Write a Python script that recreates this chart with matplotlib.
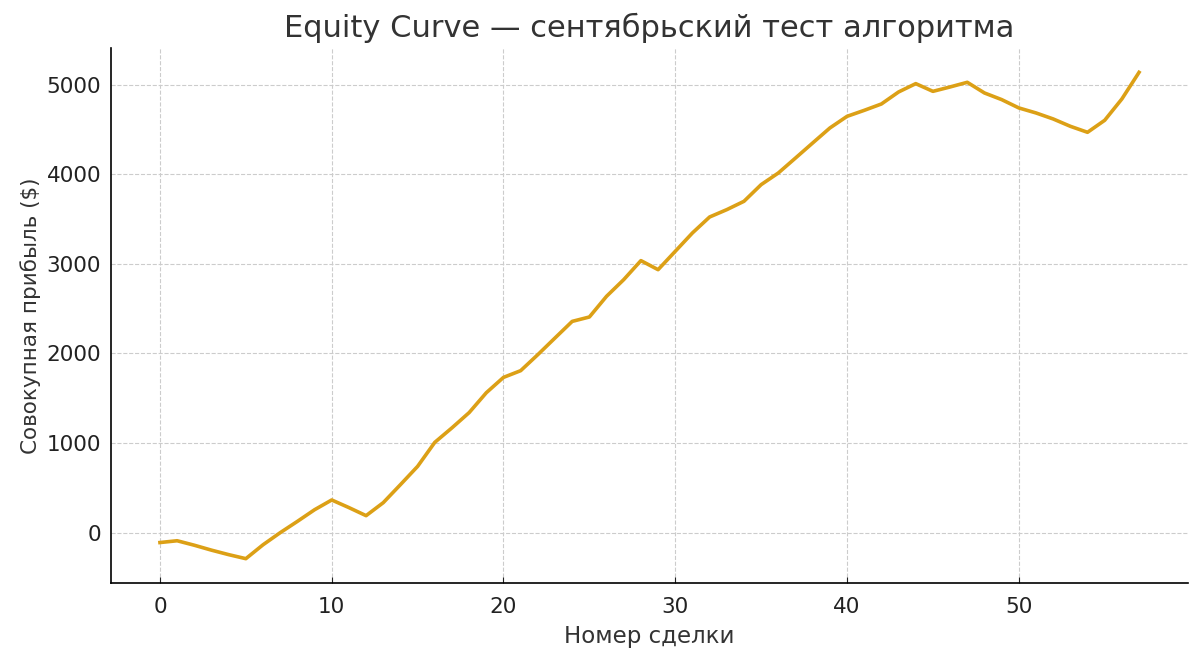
import matplotlib
matplotlib.use("Agg")
import matplotlib.pyplot as plt
import numpy as np

plt.rcParams['font.family'] = ['DejaVu Sans']

# cumulative profit per trade
trade_no = list(range(58))
equity = [-110, -90, -140, -195, -245, -290, -135, 0, 126, 256,
          365, 280, 190, 335, 536, 740, 1008, 1170, 1340, 1562,
          1733, 1808, 1987, 2173, 2358, 2407, 2638, 2824, 3036, 2935,
          3140, 3345, 3523, 3605, 3698, 3884, 4014, 4181, 4349, 4516,
          4646, 4713, 4784, 4918, 5011, 4925, 4974, 5026, 4907, 4833,
          4740, 4684, 4617, 4535, 4468, 4602, 4840, 5137]

fig = plt.figure(figsize=(12, 6.58), dpi=100)
ax = fig.add_subplot(1, 1, 1)
fig.subplots_adjust(left=0.0925, right=0.99, top=0.927, bottom=0.114)

ax.plot(trade_no, equity, color='#DCA016', linewidth=2.6)

ax.set_title('Equity Curve — сентябрьский тест алгоритма', fontsize=22, color='#333333', pad=8)
ax.set_xlabel('Номер сделки', fontsize=16.5, color='#333333', labelpad=6)
ax.set_ylabel('Совокупная прибыль ($)', fontsize=15.5, color='#333333', labelpad=4)
ax.tick_params(axis='both', labelsize=15.5, colors='#222222', direction='in', length=4)
ax.tick_params(axis='x', pad=10)
ax.tick_params(axis='y', length=0, pad=7)

ax.grid(True, linestyle='--', color='#cccccc', linewidth=0.8)
ax.spines['top'].set_visible(False)
ax.spines['right'].set_visible(False)
ax.spines['left'].set_linewidth(1.2)
ax.spines['bottom'].set_linewidth(1.2)

fig.savefig('out.png', dpi=100)
